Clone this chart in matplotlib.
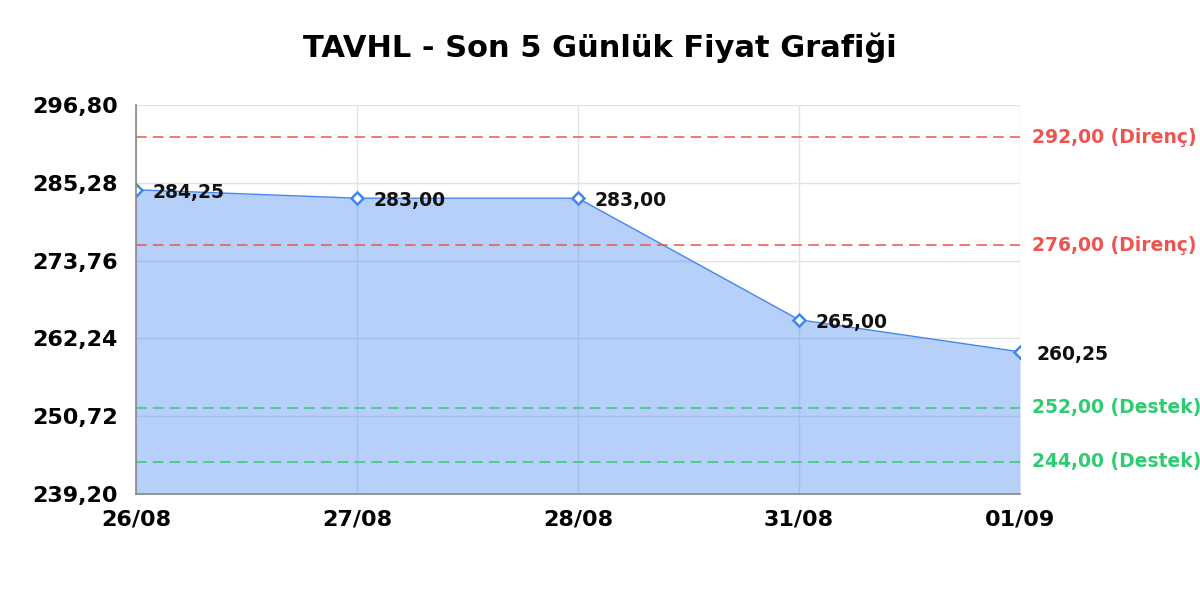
import matplotlib
matplotlib.use('Agg')
import matplotlib.pyplot as plt

dates = ['26/08', '27/08', '28/08', '31/08', '01/09']
prices = [284.25, 283.00, 283.00, 265.00, 260.25]
resistance = [292.00, 276.00]
support = [252.00, 244.00]
y_ticks = [239.20, 250.72, 262.24, 273.76, 285.28, 296.80]

def tr(v):
    return f'{v:.2f}'.replace('.', ',')

plt.rcParams['font.family'] = 'DejaVu Sans'
fig = plt.figure(figsize=(12, 6), dpi=100)
ax = fig.add_axes([0.1133, 0.1767, 0.7367, 0.6483])

x = list(range(len(dates)))
ax.set_xlim(0, len(dates) - 1)
ax.set_ylim(y_ticks[0], y_ticks[-1])

ax.grid(True, color='#e3e3e3', linewidth=1.0, zorder=0)
ax.set_axisbelow(True)

ax.fill_between(x, prices, y_ticks[0], color='#4285f4', alpha=0.38, linewidth=0, zorder=2)
ax.plot(x, prices, color='#4285f4', linewidth=1.0, zorder=3,
        marker='D', markersize=6.5, markerfacecolor='white',
        markeredgecolor='#4285f4', markeredgewidth=1.8)

for xi, p in zip(x, prices):
    ax.annotate(tr(p), (xi, p), xytext=(12, -2), textcoords='offset points',
                va='center', ha='left', fontsize=13.5, fontweight='bold',
                color='#111111', zorder=5, annotation_clip=False)

for r in resistance:
    ax.axhline(r, color='#ef5350', linestyle=(0, (7, 4)), linewidth=1.1, zorder=4)
    ax.annotate(tr(r) + ' (Direnç)', (1, r), xycoords=('axes fraction', 'data'),
                xytext=(9, 0), textcoords='offset points', va='center', ha='left',
                fontsize=13.5, fontweight='bold', color='#ef5350', annotation_clip=False)
for s in support:
    ax.axhline(s, color='#2ecc71', linestyle=(0, (7, 4)), linewidth=1.1, zorder=4)
    ax.annotate(tr(s) + ' (Destek)', (1, s), xycoords=('axes fraction', 'data'),
                xytext=(9, 0), textcoords='offset points', va='center', ha='left',
                fontsize=13.5, fontweight='bold', color='#2ecc71', annotation_clip=False)

ax.set_xticks(x)
ax.set_xticklabels(dates, fontsize=16, fontweight='bold')
ax.set_yticks(y_ticks)
ax.set_yticklabels([tr(t) for t in y_ticks], fontsize=16, fontweight='bold')
ax.tick_params(axis='y', length=0, pad=13)
ax.tick_params(axis='x', length=0, pad=11)

for side in ['top', 'right']:
    ax.spines[side].set_visible(False)
for side in ['left', 'bottom']:
    ax.spines[side].set_color('#888888')
    ax.spines[side].set_linewidth(1.2)
    ax.spines[side].set_zorder(6)

fig.text(0.5, 0.92, 'TAVHL - Son 5 Günlük Fiyat Grafiği', fontsize=22, fontweight='bold',
         ha='center', va='center')

fig.savefig('out.png', dpi=100)
